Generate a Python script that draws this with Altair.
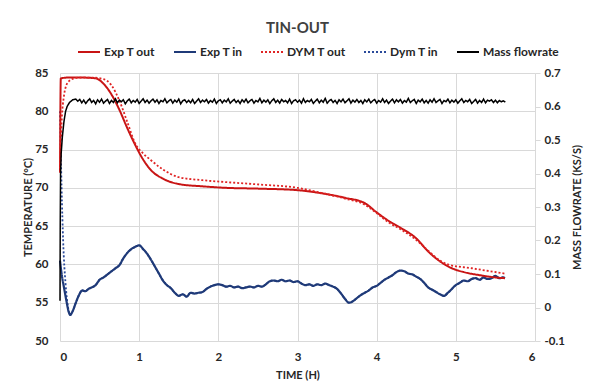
import altair as alt
import pandas as pd

# ---------------- data ----------------
exp_out_t = [0, 0.01, 0.1, 0.3, 0.45, 0.55, 0.65, 0.75, 0.85, 0.95, 1.05, 1.15, 1.3, 1.5, 1.8, 2.1,
             2.5, 3.0, 3.3, 3.6, 3.85, 4.0, 4.15, 4.3, 4.5, 4.65, 4.8, 4.95, 5.1, 5.3, 5.5, 5.62]
exp_out_v = [72.0, 84.3, 84.4, 84.4, 84.3, 83.6, 82.2, 80.2, 77.8, 75.6, 73.7, 72.3, 71.2, 70.5, 70.2, 70.0,
             69.9, 69.7, 69.3, 68.7, 68.0, 66.8, 65.7, 64.8, 63.4, 61.7, 60.4, 59.5, 59.0, 58.6, 58.3, 58.2]

dym_out_t = [0, 0.02, 0.05, 0.08, 0.12, 0.18, 0.25, 0.4, 0.55, 0.65, 0.75, 0.85, 0.95, 1.05, 1.15, 1.3,
             1.5, 1.8, 2.1, 2.5, 3.0, 3.3, 3.6, 3.85, 4.0, 4.15, 4.3, 4.5, 4.65, 4.8, 4.9, 5.2, 5.62]
dym_out_v = [72.0, 78.5, 82.0, 83.4, 84.0, 84.3, 84.4, 84.4, 84.2, 83.4, 81.4, 78.6, 75.8, 74.5, 73.6, 72.4,
             71.4, 71.0, 70.75, 70.45, 70.0, 69.35, 68.6, 67.8, 66.7, 65.5, 64.6, 63.2, 61.8, 60.5, 60.0, 59.5, 58.8]

exp_in_t = [0, 0.02, 0.05, 0.08, 0.11, 0.13, 0.16, 0.2, 0.24, 0.28, 0.32, 0.36, 0.4, 0.45, 0.5, 0.55,
            0.6, 0.65, 0.7, 0.75, 0.8, 0.85, 0.9, 0.95, 1.0, 1.05, 1.1, 1.15, 1.2, 1.25, 1.3, 1.35,
            1.4, 1.45, 1.5, 1.55, 1.6, 1.65, 1.7, 1.75, 1.8, 1.85, 1.9, 1.95, 2.0, 2.05, 2.1, 2.15,
            2.2, 2.25, 2.3, 2.35, 2.4, 2.45, 2.5, 2.55, 2.6, 2.65, 2.7, 2.75, 2.8, 2.85, 2.9, 2.95,
            3.0, 3.05, 3.1, 3.15, 3.2, 3.25, 3.3, 3.35, 3.4, 3.45, 3.5, 3.55, 3.6, 3.65, 3.7, 3.75,
            3.8, 3.85, 3.9, 3.95, 4.0, 4.05, 4.1, 4.15, 4.2, 4.25, 4.3, 4.35, 4.4, 4.45, 4.5, 4.55,
            4.6, 4.65, 4.7, 4.75, 4.8, 4.85, 4.9, 4.95, 5.0, 5.05, 5.1, 5.15, 5.2, 5.25, 5.3, 5.35,
            5.4, 5.45, 5.5, 5.55, 5.6, 5.62]
exp_in_v = [60.5, 58.8, 57.0, 55.3, 53.8, 53.4, 53.9, 55.0, 56.0, 56.6, 56.5, 56.8, 57.0, 57.3, 58.0, 58.3,
            58.7, 59.1, 59.5, 59.9, 60.8, 61.5, 62.0, 62.3, 62.5, 62.0, 61.4, 60.6, 59.7, 58.8, 57.9, 57.3,
            56.9, 56.3, 55.9, 56.1, 55.8, 56.3, 56.2, 56.3, 56.4, 56.8, 57.1, 57.3, 57.4, 57.3, 57.1, 57.2,
            57.0, 57.1, 56.9, 57.0, 57.1, 57.0, 57.2, 57.1, 57.4, 57.8, 57.9, 57.8, 58.0, 57.8, 57.9, 57.7,
            57.8, 57.5, 57.3, 57.4, 57.2, 57.4, 57.3, 57.5, 57.3, 57.1, 56.8, 56.2, 55.5, 55.0, 55.2, 55.6,
            56.0, 56.3, 56.6, 57.0, 57.2, 57.6, 58.0, 58.3, 58.6, 59.0, 59.2, 59.1, 58.8, 58.7, 58.4, 58.1,
            57.6, 57.0, 56.7, 56.4, 56.1, 55.9, 56.3, 56.8, 57.3, 57.6, 57.9, 57.8, 58.1, 58.2, 58.0, 58.3,
            58.1, 58.2, 58.5, 58.2, 58.3, 58.2]

# model inlet temperature: its own start, then it lies under the measured curve
dym_in_start_t = [0, 0.02, 0.04, 0.07, 0.10]
dym_in_start_v = [80.0, 70.0, 63.0, 57.5, 54.5]
dym_in_t = dym_in_start_t + exp_in_t[5:]
dym_in_v = dym_in_start_v + exp_in_v[5:]

mass_t = [0, 0.003, 0.007, 0.015, 0.03, 0.05, 0.07, 0.09, 0.12, 0.16, 0.2,
          0.225, 0.25, 0.275, 0.30, 0.325, 0.35, 0.375, 0.40,
          0.425, 0.45, 0.475, 0.50, 0.525, 0.55, 0.575, 0.60,
          0.625, 0.65, 0.675, 0.70, 0.725, 0.75, 0.775, 0.80,
          0.825, 0.85, 0.875, 0.90, 0.925, 0.95, 0.975, 1.00,
          1.025, 1.05, 1.075, 1.10, 1.125, 1.15, 1.175, 1.20,
          1.225, 1.25, 1.275, 1.30, 1.325, 1.35, 1.375, 1.40,
          1.425, 1.45, 1.475, 1.50, 1.525, 1.55, 1.575, 1.60,
          1.625, 1.65, 1.675, 1.70, 1.725, 1.75, 1.775, 1.80,
          1.825, 1.85, 1.875, 1.90, 1.925, 1.95, 1.975, 2.00,
          2.025, 2.05, 2.075, 2.10, 2.125, 2.15, 2.175, 2.20,
          2.225, 2.25, 2.275, 2.30, 2.325, 2.35, 2.375, 2.40,
          2.425, 2.45, 2.475, 2.50, 2.525, 2.55, 2.575, 2.60,
          2.625, 2.65, 2.675, 2.70, 2.725, 2.75, 2.775, 2.80,
          2.825, 2.85, 2.875, 2.90, 2.925, 2.95, 2.975, 3.00,
          3.025, 3.05, 3.075, 3.10, 3.125, 3.15, 3.175, 3.20,
          3.225, 3.25, 3.275, 3.30, 3.325, 3.35, 3.375, 3.40,
          3.425, 3.45, 3.475, 3.50, 3.525, 3.55, 3.575, 3.60,
          3.625, 3.65, 3.675, 3.70, 3.725, 3.75, 3.775, 3.80,
          3.825, 3.85, 3.875, 3.90, 3.925, 3.95, 3.975, 4.00,
          4.025, 4.05, 4.075, 4.10, 4.125, 4.15, 4.175, 4.20,
          4.225, 4.25, 4.275, 4.30, 4.325, 4.35, 4.375, 4.40,
          4.425, 4.45, 4.475, 4.50, 4.525, 4.55, 4.575, 4.60,
          4.625, 4.65, 4.675, 4.70, 4.725, 4.75, 4.775, 4.80,
          4.825, 4.85, 4.875, 4.90, 4.925, 4.95, 4.975, 5.00,
          5.025, 5.05, 5.075, 5.10, 5.125, 5.15, 5.175, 5.20,
          5.225, 5.25, 5.275, 5.30, 5.325, 5.35, 5.375, 5.40,
          5.425, 5.45, 5.475, 5.50, 5.525, 5.55, 5.575, 5.60,
          5.625]
mass_v = [0.02, 0.25, 0.40, 0.46, 0.51, 0.555, 0.585, 0.600, 0.612, 0.620, 0.622,
          0.616, 0.621, 0.611, 0.619, 0.609, 0.617, 0.623, 0.612,
          0.618, 0.608, 0.620, 0.613, 0.622, 0.610, 0.616, 0.621,
          0.609, 0.618, 0.612, 0.623, 0.611, 0.619, 0.614, 0.620,
          0.608, 0.617, 0.622, 0.611, 0.618, 0.613, 0.621, 0.609,
          0.616, 0.623, 0.612, 0.619, 0.610, 0.617, 0.622, 0.613,
          0.620, 0.609, 0.618, 0.614, 0.623, 0.611, 0.617, 0.621,
          0.610, 0.619, 0.613, 0.622, 0.608, 0.617, 0.620, 0.612,
          0.618, 0.611, 0.621, 0.609, 0.616, 0.623, 0.612, 0.619,
          0.614, 0.621, 0.610, 0.618, 0.613, 0.622, 0.609, 0.617,
          0.620, 0.611, 0.619, 0.614, 0.623, 0.610, 0.616, 0.621,
          0.612, 0.618, 0.609, 0.620, 0.613, 0.622, 0.611, 0.617,
          0.621, 0.610, 0.618, 0.614, 0.624, 0.611, 0.619, 0.613,
          0.620, 0.609, 0.617, 0.623, 0.612, 0.619, 0.610, 0.621,
          0.614, 0.618, 0.611, 0.622, 0.609, 0.617, 0.620, 0.613,
          0.619, 0.610, 0.623, 0.612, 0.618, 0.614, 0.621, 0.609,
          0.616, 0.622, 0.611, 0.619, 0.613, 0.624, 0.610, 0.617,
          0.621, 0.612, 0.618, 0.609, 0.620, 0.614, 0.622, 0.611,
          0.617, 0.623, 0.610, 0.619, 0.613, 0.621, 0.612, 0.618,
          0.609, 0.620, 0.614, 0.622, 0.611, 0.617, 0.621, 0.610,
          0.618, 0.613, 0.623, 0.612, 0.619, 0.609, 0.616, 0.622,
          0.611, 0.620, 0.614, 0.621, 0.610, 0.618, 0.613, 0.624,
          0.612, 0.617, 0.621, 0.609, 0.619, 0.614, 0.622, 0.611,
          0.618, 0.610, 0.620, 0.613, 0.623, 0.612, 0.617, 0.621,
          0.609, 0.618, 0.614, 0.622, 0.611, 0.619, 0.613, 0.620,
          0.610, 0.617, 0.623, 0.612, 0.618, 0.614, 0.621, 0.609,
          0.615, 0.621, 0.610, 0.618, 0.612, 0.622, 0.611, 0.619,
          0.616, 0.620, 0.612, 0.619, 0.611, 0.618, 0.614, 0.617,
          0.613]

series_names = ["Exp T out", "Exp T in", "DYM T out", "Dym T in", "Mass flowrate"]
series_colors = ["#c81414", "#1f3a78", "#e02424", "#2a4a9a", "#000000"]
series_dash = [[1, 0], [1, 0], [2, 2], [2, 2], [1, 0]]
x_ticks = [0, 1, 2, 3, 4, 5, 6]
y_ticks = [50, 55, 60, 65, 70, 75, 80, 85]
y2_ticks = [-0.1, 0, 0.1, 0.2, 0.3, 0.4, 0.5, 0.6, 0.7]

FONT = "Lato"
TXT = "#262626"
GRID = "#d9d9d9"

color_scale = alt.Scale(domain=series_names, range=series_colors)
dash_scale = alt.Scale(domain=series_names, range=series_dash)

x_enc = alt.X("t:Q", scale=alt.Scale(domain=[0, 6], nice=False),
              axis=alt.Axis(values=x_ticks, title="TIME (H)", grid=True, gridColor=GRID,
                            ticks=False, domain=False, labelPadding=10, titlePadding=7, format="d"))
y_axis = alt.Axis(values=y_ticks, title="TEMPERATURE (°C)", grid=True, gridColor=GRID,
                  ticks=False, domain=False, labelPadding=12, titlePadding=1)
y_scale = alt.Scale(domain=[50, 85], nice=False)

legend = alt.Legend(title=None, orient="none", legendX=17, legendY=-33, direction="horizontal",
                    columns=5, symbolType="stroke", symbolSize=484, symbolStrokeWidth=2,
                    labelFont=FONT, labelFontSize=12, labelFontWeight="bold", labelColor=TXT,
                    labelOffset=3, columnPadding=14)


def temp_layer(ts, vs, name, width):
    df = pd.DataFrame({"t": ts, "v": vs, "series": name})
    return alt.Chart(df).mark_line(interpolate="monotone", strokeWidth=width).encode(
        x=x_enc,
        y=alt.Y("v:Q", scale=y_scale, axis=y_axis),
        color=alt.Color("series:N", scale=color_scale, legend=legend),
        strokeDash=alt.StrokeDash("series:N", scale=dash_scale, legend=legend),
    )


temps = alt.layer(
    temp_layer(dym_in_t, dym_in_v, "Dym T in", 1.8),
    temp_layer(exp_in_t, exp_in_v, "Exp T in", 2.2),
    temp_layer(exp_out_t, exp_out_v, "Exp T out", 2.0),
    temp_layer(dym_out_t, dym_out_v, "DYM T out", 1.8),
)

mass_df = pd.DataFrame({"t": mass_t, "m": mass_v, "series": "Mass flowrate"})
mass = alt.Chart(mass_df).mark_line(strokeWidth=1.5).encode(
    x=x_enc,
    y=alt.Y("m:Q", scale=alt.Scale(domain=[-0.1, 0.7], nice=False),
            axis=alt.Axis(orient="right", values=y2_ticks, title="MASS FLOWRATE (KS/S)", grid=False,
                          ticks=True, tickColor=GRID, tickSize=5, domain=False, labelPadding=4,
                          titleAngle=270, titlePadding=18,
                          labelExpr="(datum.value < 0 ? '-' : '') + (abs(datum.value) < 1e-9 ? '0' : format(abs(datum.value), '.1f'))")),
    color=alt.Color("series:N", scale=color_scale, legend=legend),
    strokeDash=alt.StrokeDash("series:N", scale=dash_scale, legend=legend),
)

chart = alt.layer(temps, mass).resolve_scale(y="independent").properties(
    width=475, height=268,
    title=alt.TitleParams("TIN-OUT", font=FONT, fontSize=15, fontWeight="bold", color="#404040",
                          anchor="middle", offset=4),
    autosize=alt.AutoSizeParams(type="none"),
    padding={"left": 60, "top": 73, "right": 54, "bottom": 51},
    background="white",
).configure_axis(
    labelFont=FONT, labelFontSize=11.5, labelFontWeight="bold", labelColor=TXT,
    titleFont=FONT, titleFontSize=11, titleFontWeight="bold", titleColor=TXT,
).configure_view(stroke=None)

chart.save("out.html", embed_options={"renderer": "svg", "actions": False})
